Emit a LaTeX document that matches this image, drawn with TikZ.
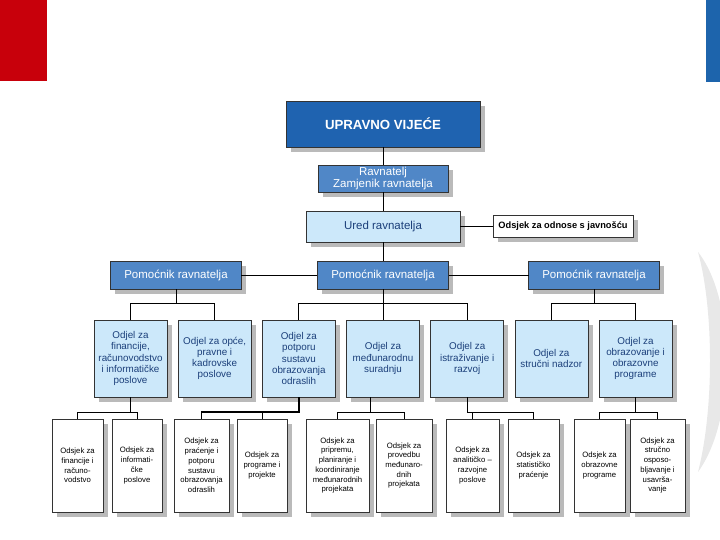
\documentclass[tikz,border=0pt]{standalone}
\usepackage{fontspec}
\setmainfont{Liberation Sans}
\usetikzlibrary{positioning, shadows, calc}
\definecolor{vijeceblue}{HTML}{1F63B0}
\definecolor{midblue}{HTML}{5087C7}
\definecolor{paleblue}{HTML}{CCE8FA}
\definecolor{navytext}{HTML}{1B3F7A}
\definecolor{logored}{HTML}{C8000B}
\definecolor{logoblue}{HTML}{1D64AC}

\begin{document}
\begin{tikzpicture}[
    x=0.03cm, y=-0.03cm,
    every node/.style={inner sep=1pt, outer sep=0pt, align=center},
    boxshadow/.style={drop shadow={shadow xshift=0.14cm, shadow yshift=-0.14cm, fill=black!27, opacity=1}},
    boardbox/.style={draw=black!80, line width=0.6pt, fill=vijeceblue, text=white, font=\bfseries\fontsize{11.3}{13}\selectfont, minimum width=5.82cm, minimum height=1.38cm, boxshadow},
    leadbox/.style={draw=black!80, line width=0.6pt, fill=midblue, text=white, font=\fontsize{9.8}{10.8}\selectfont, minimum width=3.93cm, minimum height=0.84cm, boxshadow},
    officebox/.style={draw=black!80, line width=0.6pt, fill=paleblue, text=navytext, font=\fontsize{9.8}{10.8}\selectfont, minimum width=4.62cm, minimum height=0.93cm, boxshadow},
    pressbox/.style={draw=black!80, line width=0.6pt, fill=white, font=\bfseries\fontsize{7.9}{9}\selectfont, minimum width=4.2cm, minimum height=0.66cm, boxshadow},
    deptbox/.style={draw=black!80, line width=0.6pt, fill=paleblue, text=navytext, font=\fontsize{8.4}{9.6}\selectfont, minimum width=2.19cm, minimum height=2.31cm, boxshadow},
    unitbox/.style={draw=black!80, line width=0.6pt, fill=white, font=\fontsize{6.6}{8.3}\selectfont, minimum height=2.79cm, boxshadow},
    link/.style={draw=black, line width=0.7pt}
]
    \useasboundingbox (0,0) rectangle (720,540);

    % corner marks and watermark
    \fill[logored] (0,0) rectangle (47,81);
    \fill[logoblue] (706,0) rectangle (720,82);
    \fill[black!9] (698,252) .. controls (736,300) and (736,420) .. (698,472)
        .. controls (714,410) and (714,310) .. (698,252);

    % top levels
    \node[boardbox] (vijece) at (383,124) {UPRAVNO VIJEĆE};
    \node[leadbox, minimum width=3.9cm, minimum height=0.81cm, below=0.54cm of vijece] (ravnatelj) {Ravnatelj\\Zamjenik ravnatelja};
    \node[officebox, below=0.57cm of ravnatelj] (ured) {Ured ravnatelja};
    \node[pressbox, right=0.99cm of ured] (javnost) {Odsjek za odnose s javnošću};

    % assistants
    \node[leadbox, below=0.57cm of ured] (pomocnik2) {Pomoćnik ravnatelja};
    \node[leadbox, left=2.28cm of pomocnik2] (pomocnik1) {Pomoćnik ravnatelja};
    \node[leadbox, right=2.4cm of pomocnik2] (pomocnik3) {Pomoćnik ravnatelja};

    % departments
    \node[deptbox] (odjel1) at (130.5,358.5) {Odjel za\\financije,\\računovodstvo\\i informatičke\\poslove};
    \node[deptbox, right=0.335cm of odjel1] (odjel2) {Odjel za opće,\\pravne i\\kadrovske\\poslove};
    \node[deptbox, right=0.335cm of odjel2] (odjel3) {Odjel za\\potporu\\sustavu\\obrazovanja\\odraslih};
    \node[deptbox, right=0.335cm of odjel3] (odjel4) {Odjel za\\međunarodnu\\suradnju};
    \node[deptbox, right=0.335cm of odjel4] (odjel5) {Odjel za\\istraživanje i\\razvoj};
    \node[deptbox, right=0.335cm of odjel5] (odjel6) {Odjel za\\stručni nadzor};
    \node[deptbox, right=0.335cm of odjel6] (odjel7) {Odjel za\\obrazovanje i\\obrazovne\\programe};

    % sections
    \node[unitbox, minimum width=1.53cm] (odsjek1) at (77.5,465.5) {Odsjek za\\financije i\\računo-\\vodstvo};
    \node[unitbox, minimum width=1.5cm, right=0.27cm of odsjek1] (odsjek2) {Odsjek za\\informati-\\čke\\poslove};
    \node[unitbox, minimum width=1.65cm, right=0.36cm of odsjek2] (odsjek3) {Odsjek za\\praćenje i\\potporu\\sustavu\\obrazovanja\\odraslih};
    \node[unitbox, minimum width=1.5cm, right=0.24cm of odsjek3] (odsjek4) {Odsjek za\\programe i\\projekte};
    \node[unitbox, minimum width=1.89cm, right=0.57cm of odsjek4] (odsjek5) {Odsjek za\\pripremu,\\planiranje i\\koordiniranje\\međunarodnih\\projekata};
    \node[unitbox, minimum width=1.68cm, right=0.21cm of odsjek5] (odsjek6) {Odsjek za\\provedbu\\međunaro-\\dnih\\projekata};
    \node[unitbox, minimum width=1.59cm, right=0.42cm of odsjek6] (odsjek7) {Odsjek za\\analitičko –\\razvojne\\poslove};
    \node[unitbox, minimum width=1.53cm, right=0.27cm of odsjek7] (odsjek8) {Odsjek za\\statističko\\praćenje};
    \node[unitbox, minimum width=1.53cm, right=0.45cm of odsjek8] (odsjek9) {Odsjek za\\obrazovne\\programe};
    \node[unitbox, minimum width=1.65cm, right=0.15cm of odsjek9] (odsjek10) {Odsjek za\\stručno\\osposo-\\bljavanje i\\usavrša-\\vanje};

    % Connectors
    \draw[link] (vijece) -- (ravnatelj);
    \draw[link] (ravnatelj) -- (ured);
    \draw[link] (ured) -- (pomocnik2);
    \draw[link] (ured) -- (javnost);
    \draw[link] (pomocnik1) -- (pomocnik2);
    \draw[link] (pomocnik2) -- (pomocnik3);

    \draw[link] (pomocnik1.south) -- ++(0,14) -| (odjel1.north);
    \draw[link] (pomocnik1.south) -- ++(0,14) -| (odjel2.north);
    \draw[link] (pomocnik2.south) -- ++(0,14) -| (odjel3.north);
    \draw[link] (pomocnik2.south) -- ++(0,14) -| (odjel4.north);
    \draw[link] (pomocnik2.south) -- ++(0,14) -| (odjel5.north);
    \draw[link] (pomocnik3.south) -- ++(0,14) -| (odjel6.north);
    \draw[link] (pomocnik3.south) -- ++(0,14) -| (odjel7.north);

    \draw[link] (odjel1.south) -- ++(0,15) -| (odsjek1.north);
    \draw[link] (odjel1.south) -- ++(0,15) -| (odsjek2.north);
    \draw[link, line width=1.4pt] (odjel3.south) -- ++(0,15) -| (odsjek3.north);
    \draw[link] (odjel3.south) -- ++(0,15) -| (odsjek4.north);
    \coordinate (split4) at ($(odsjek5.north)!.5!(odsjek6.north)$);
    \draw[link] (odjel4.south -| split4) -- ++(0,15) -| (odsjek5.north);
    \draw[link] (odjel4.south -| split4) -- ++(0,15) -| (odsjek6.north);
    \draw[link] (odjel5.south) -- ++(0,15) -| (odsjek7.north);
    \draw[link] (odjel5.south) -- ++(0,15) -| (odsjek8.north);
    \draw[link] (odjel7.south) -- ++(0,15) -| (odsjek9.north);
    \draw[link] (odjel7.south) -- ++(0,15) -| (odsjek10.north);
\end{tikzpicture}
\end{document}
